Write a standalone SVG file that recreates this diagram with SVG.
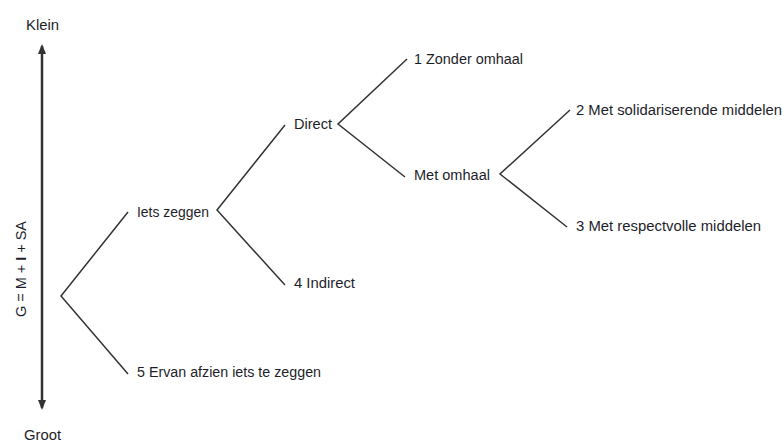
<svg xmlns="http://www.w3.org/2000/svg" width="784" height="443" viewBox="0 0 784 443">
<style>
text{font-family:"Liberation Sans",Arial,sans-serif;font-size:14px;fill:#1e1e2a}
.c{fill:none;stroke:#333;stroke-width:1.5}
.ax{stroke:#333;stroke-width:2.5}
</style>
<defs>
<marker id="ah" markerWidth="10" markerHeight="10" refX="8" refY="4" orient="auto-start-reverse" markerUnits="userSpaceOnUse" viewBox="0 0 10 8">
<path d="M0,0 L10,4 L0,8 z" fill="#333"/>
</marker>
</defs>
<g id="axis">
<line class="ax" x1="42" y1="46" x2="42" y2="408" marker-start="url(#ah)" marker-end="url(#ah)"/>
<text x="26" y="30" textLength="33" lengthAdjust="spacingAndGlyphs">Klein</text>
<text x="24" y="440" textLength="37" lengthAdjust="spacingAndGlyphs">Groot</text>
<text transform="translate(26,269) rotate(-90)" x="-48" y="0" textLength="96" lengthAdjust="spacingAndGlyphs">G = M + <tspan font-weight="bold">I</tspan> + SA</text>
</g>
<g id="connectors">
<polyline class="c" points="128,212 61,296 128,374"/>
<polyline class="c" points="285,125 217,210 285,285"/>
<polyline class="c" points="407,59 338,124 405,177"/>
<polyline class="c" points="570,110 500,174 567,227"/>
</g>
<g id="n-iets"><text x="137" y="217" textLength="72" lengthAdjust="spacingAndGlyphs">Iets zeggen</text></g>
<g id="n-ervan"><text x="137" y="377" textLength="184" lengthAdjust="spacingAndGlyphs">5 Ervan afzien iets te zeggen</text></g>
<g id="n-direct"><text x="294" y="129" textLength="38" lengthAdjust="spacingAndGlyphs">Direct</text></g>
<g id="n-indirect"><text x="294" y="288" textLength="61" lengthAdjust="spacingAndGlyphs">4 Indirect</text></g>
<g id="n-zonder"><text x="414" y="64" textLength="109" lengthAdjust="spacingAndGlyphs">1 Zonder omhaal</text></g>
<g id="n-met"><text x="414" y="180" textLength="76" lengthAdjust="spacingAndGlyphs">Met omhaal</text></g>
<g id="n-sol"><text x="576" y="115" textLength="206" lengthAdjust="spacingAndGlyphs">2 Met solidariserende middelen</text></g>
<g id="n-resp"><text x="576" y="231" textLength="185" lengthAdjust="spacingAndGlyphs">3 Met respectvolle middelen</text></g>
</svg>
